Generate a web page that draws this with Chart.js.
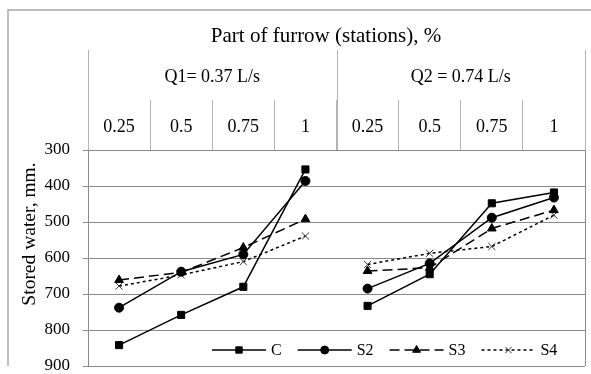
<!DOCTYPE html>
<html>
<head>
<meta charset="utf-8">
<script src="https://cdn.jsdelivr.net/npm/chart.js@4.4.1/dist/chart.umd.min.js"></script>
<style>
html, body { margin: 0; padding: 0; background: #fff; }
</style>
</head>
<body>
<canvas id="myChart" width="591" height="374"></canvas>
<script>
// part of furrow (stations), two inflow rates
const stations = ['0.25', '0.5', '0.75', '1', '0.25', '0.5', '0.75', '1'];
const flows = ['Q1= 0.37 L/s', 'Q2 = 0.74 L/s'];
const seriesNames = ['C', 'S2', 'S3', 'S4'];

// stored water, mm
const storedC  = [842, 758, 680, 354, 733, 645, 448, 418];
const storedS2 = [738, 638, 590, 386, 685, 615, 488, 432];
const storedS3 = [661, 640, 571, 492, 636, 627, 518, 467];
const storedS4 = [678, 647, 610, 539, 618, 587, 568, 481];

const yMin = 300, yMax = 900, yStep = 100;

const serif = "'Liberation Serif', 'Times New Roman', serif";

const frame = {
    id: 'frame',
    beforeDraw(chart) {
        const ctx = chart.ctx;
        ctx.save();
        ctx.fillStyle = '#fff';
        ctx.fillRect(0, 0, chart.width, chart.height);
        ctx.restore();
    },
    afterDraw(chart) {
        const ctx = chart.ctx;
        const a = chart.chartArea;
        const x = chart.scales.x;
        ctx.save();

        // outer frame
        ctx.strokeStyle = '#a6a6a6';
        ctx.lineWidth = 1.5;
        ctx.beginPath();
        ctx.moveTo(8, a.bottom);
        ctx.lineTo(8, 10);
        ctx.lineTo(chart.width, 10);
        ctx.stroke();

        // group dividers in header + right border
        const mid = (x.getPixelForValue(3) + x.getPixelForValue(4)) / 2;
        ctx.strokeStyle = '#b4b4b4';
        ctx.lineWidth = 1;
        [a.left, mid, a.right].forEach(px => {
            ctx.beginPath();
            ctx.moveTo(Math.round(px) + 0.5, 50);
            ctx.lineTo(Math.round(px) + 0.5, a.top);
            ctx.stroke();
        });
        ctx.strokeStyle = '#8a8a8a';
        ctx.beginPath();
        ctx.moveTo(Math.round(a.right) + 0.5, a.top);
        ctx.lineTo(Math.round(a.right) + 0.5, a.bottom);
        ctx.stroke();

        // group labels
        ctx.fillStyle = '#000';
        ctx.font = '18px ' + serif;
        ctx.textAlign = 'center';
        ctx.textBaseline = 'middle';
        ctx.fillText(flows[0], (x.getPixelForValue(0) + x.getPixelForValue(3)) / 2, 77);
        ctx.fillText(flows[1], (x.getPixelForValue(4) + x.getPixelForValue(7)) / 2, 77);

        // y title
        ctx.save();
        ctx.translate(30, 234);
        ctx.rotate(-Math.PI / 2);
        ctx.font = '19.5px ' + serif;
        ctx.fillText('Stored water, mm.', 0, 0);
        ctx.restore();

        // legend inside plot
        let lx = 212;
        const ly = 350;
        ctx.font = '16px ' + serif;
        ctx.textAlign = 'left';
        chart.data.datasets.forEach(ds => {
            ctx.strokeStyle = ds.borderColor;
            ctx.lineWidth = ds.borderWidth;
            ctx.setLineDash(ds.borderDash || []);
            ctx.beginPath();
            ctx.moveTo(lx, ly);
            ctx.lineTo(lx + 54, ly);
            ctx.stroke();
            ctx.setLineDash([]);
            ctx.fillStyle = '#000';
            ctx.strokeStyle = ds.pointBorderColor;
            ctx.lineWidth = 1;
            Chart.helpers.drawPoint(ctx, {pointStyle: ds.pointStyle, radius: ds.pointRadius - 0.5, borderWidth: 1, rotation: 0}, lx + 27, ly);
            ctx.fillStyle = '#000';
            ctx.fillText(ds.label, lx + 59, ly + 1);
            lx += 59 + ctx.measureText(ds.label).width + 16;
        });
        ctx.restore();
    }
};

function series(label, data, pointStyle, radius, dash, markColor) {
    return {
        label: label,
        data: data,
        borderColor: '#000',
        backgroundColor: '#000',
        pointBackgroundColor: '#000',
        pointBorderColor: markColor || '#000',
        borderWidth: 1.5,
        borderDash: dash,
        pointBorderWidth: 1,
        pointStyle: pointStyle,
        pointRadius: radius,
        tension: 0,
        fill: false,
        // break the line between the two flow groups
        segment: {
            borderColor: c => c.p0DataIndex === 3 ? 'rgba(0,0,0,0)' : '#000'
        }
    };
}

const ctx = document.getElementById('myChart').getContext('2d');

const storedChart = new Chart(ctx, {
    type: 'line',
    data: {
        labels: stations,
        datasets: [
            series(seriesNames[0], storedC, 'rect', 5, []),
            series(seriesNames[1], storedS2, 'circle', 4.5, []),
            series(seriesNames[2], storedS3, 'triangle', 5, [10, 5]),
            series(seriesNames[3], storedS4, 'crossRot', 5, [3, 3], '#333')
        ]
    },
    options: {
        responsive: false,
        animation: false,
        devicePixelRatio: 1,
        layout: { padding: { left: 8, top: 10, right: 6, bottom: 8 } },
        plugins: {
            legend: { display: false },
            tooltip: { enabled: false },
            colors: { enabled: false }
        },
        scales: {
            x: {
                position: 'top',
                offset: true,
                grid: { offset: true, drawOnChartArea: false, drawTicks: true, tickLength: 50, color: '#b4b4b4' },
                border: { display: false },
                ticks: { padding: -38, autoSkip: false, maxRotation: 0, color: '#000', font: { family: serif, size: 18 } },
                title: {
                    display: true,
                    text: 'Part of furrow (stations), %    ',
                    color: '#000',
                    font: { family: serif, size: 21 },
                    padding: 14
                },
                afterFit: s => { s.height = 140; }
            },
            y: {
                reverse: true,
                min: yMin,
                max: yMax,
                ticks: { stepSize: yStep, padding: 13, color: '#000', font: { family: serif, size: 17 } },
                grid: { color: '#8a8a8a', tickLength: 5 },
                border: { color: '#8a8a8a' },
                afterFit: s => { s.width = 80; s.paddingTop = 0; s.paddingBottom = 0; }
            }
        }
    },
    plugins: [frame]
});
</script>
</body>
</html>
